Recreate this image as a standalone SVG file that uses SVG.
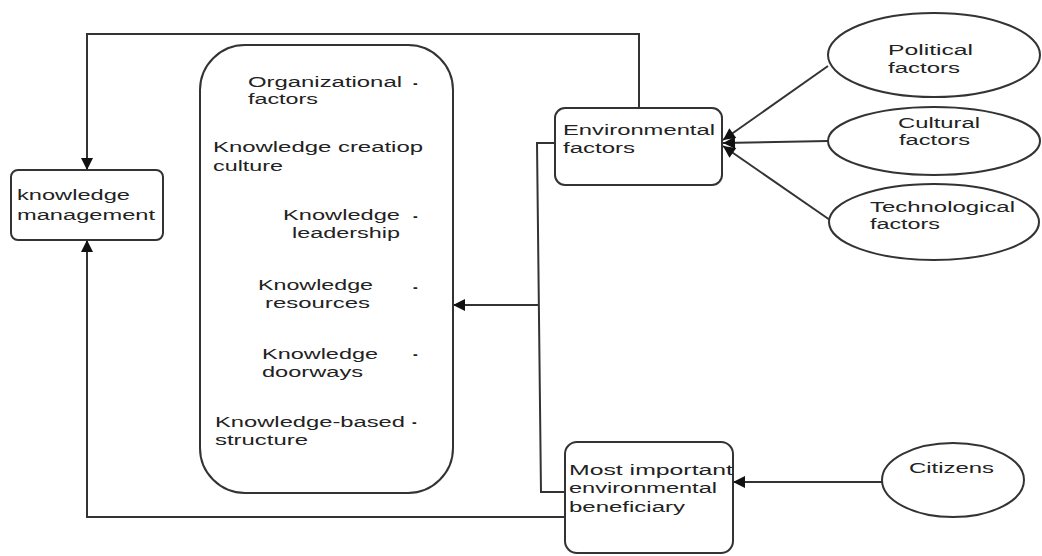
<svg xmlns="http://www.w3.org/2000/svg" width="1042" height="556" viewBox="0 0 1042 556">
<style>
.box{fill:#fff;stroke:#333;stroke-width:2}
.ln{fill:none;stroke:#333;stroke-width:2}
text{font-family:"Liberation Sans",Arial,sans-serif;font-size:14px;fill:#222}
.dash{font-weight:bold}
</style>
<defs>
<marker id="ah" viewBox="0 0 10 10" refX="10" refY="5" markerWidth="7" markerHeight="6" markerUnits="strokeWidth" orient="auto">
<path d="M0,0 L10,5 L0,10 z" fill="#111"/>
</marker>
</defs>
<rect width="1042" height="556" fill="#fff"/>
<g id="connectors">
<polyline class="ln" points="639,108 639,34 87,34 87,170" marker-end="url(#ah)"/>
<polyline class="ln" points="565,517 87,517 87,240" marker-end="url(#ah)"/>
<polyline class="ln" points="555,143 537,143 541,492 565,492"/>
<line class="ln" x1="539" y1="305" x2="453" y2="305" marker-end="url(#ah)"/>
<line class="ln" x1="882" y1="482" x2="733" y2="482" marker-end="url(#ah)"/>
<line class="ln" x1="828" y1="66" x2="723" y2="140" marker-end="url(#ah)"/>
<line class="ln" x1="828" y1="141" x2="723" y2="143" marker-end="url(#ah)"/>
<line class="ln" x1="830" y1="220" x2="723" y2="146" marker-end="url(#ah)"/>
</g>
<g id="knowledge-management">
<rect class="box" x="11" y="170" width="152" height="70" rx="7"/>
<text x="17" y="200" textLength="113" lengthAdjust="spacingAndGlyphs">knowledge</text>
<text x="17" y="220" textLength="138" lengthAdjust="spacingAndGlyphs">management</text>
</g>
<g id="organizational-factors">
<rect class="box" x="200" y="45" width="253" height="448" rx="45"/>
<text x="248" y="87" textLength="154" lengthAdjust="spacingAndGlyphs">Organizational</text>
<text class="dash" x="413" y="88">-</text>
<text x="248" y="104" textLength="70" lengthAdjust="spacingAndGlyphs">factors</text>
<text x="213" y="152" textLength="210" lengthAdjust="spacingAndGlyphs">Knowledge creatiop</text>
<text x="213" y="171" textLength="70" lengthAdjust="spacingAndGlyphs">culture</text>
<text x="283" y="220" textLength="117" lengthAdjust="spacingAndGlyphs">Knowledge</text>
<text class="dash" x="413" y="221">-</text>
<text x="292" y="238" textLength="108" lengthAdjust="spacingAndGlyphs">leadership</text>
<text x="258" y="290" textLength="115" lengthAdjust="spacingAndGlyphs">Knowledge</text>
<text class="dash" x="413" y="292">-</text>
<text x="265" y="308" textLength="105" lengthAdjust="spacingAndGlyphs">resources</text>
<text x="262" y="359" textLength="116" lengthAdjust="spacingAndGlyphs">Knowledge</text>
<text class="dash" x="413" y="359">-</text>
<text x="262" y="377" textLength="101" lengthAdjust="spacingAndGlyphs">doorways</text>
<text x="215" y="427" textLength="190" lengthAdjust="spacingAndGlyphs">Knowledge-based</text>
<text class="dash" x="412" y="427">-</text>
<text x="215" y="445" textLength="93" lengthAdjust="spacingAndGlyphs">structure</text>
</g>
<g id="environmental-factors">
<rect class="box" x="555" y="108" width="167" height="77" rx="10"/>
<text x="563" y="135" textLength="152" lengthAdjust="spacingAndGlyphs">Environmental</text>
<text x="563" y="153" textLength="72" lengthAdjust="spacingAndGlyphs">factors</text>
</g>
<g id="beneficiary">
<rect class="box" x="565" y="442" width="168" height="111" rx="12"/>
<text x="569" y="475" textLength="164" lengthAdjust="spacingAndGlyphs">Most important</text>
<text x="569" y="493" textLength="148" lengthAdjust="spacingAndGlyphs">environmental</text>
<text x="569" y="512" textLength="116" lengthAdjust="spacingAndGlyphs">beneficiary</text>
</g>
<g id="political">
<ellipse class="box" cx="934" cy="55" rx="106" ry="42"/>
<text x="888" y="55" textLength="85" lengthAdjust="spacingAndGlyphs">Political</text>
<text x="888" y="73" textLength="72" lengthAdjust="spacingAndGlyphs">factors</text>
</g>
<g id="cultural">
<ellipse class="box" cx="934" cy="141" rx="106" ry="34"/>
<text x="898" y="128" textLength="82" lengthAdjust="spacingAndGlyphs">Cultural</text>
<text x="899" y="145" textLength="71" lengthAdjust="spacingAndGlyphs">factors</text>
</g>
<g id="technological">
<ellipse class="box" cx="934" cy="222" rx="105" ry="38"/>
<text x="870" y="212" textLength="145" lengthAdjust="spacingAndGlyphs">Technological</text>
<text x="870" y="229" textLength="70" lengthAdjust="spacingAndGlyphs">factors</text>
</g>
<g id="citizens">
<ellipse class="box" cx="953" cy="480" rx="71" ry="37"/>
<text x="909" y="473" textLength="85" lengthAdjust="spacingAndGlyphs">Citizens</text>
</g>
</svg>
